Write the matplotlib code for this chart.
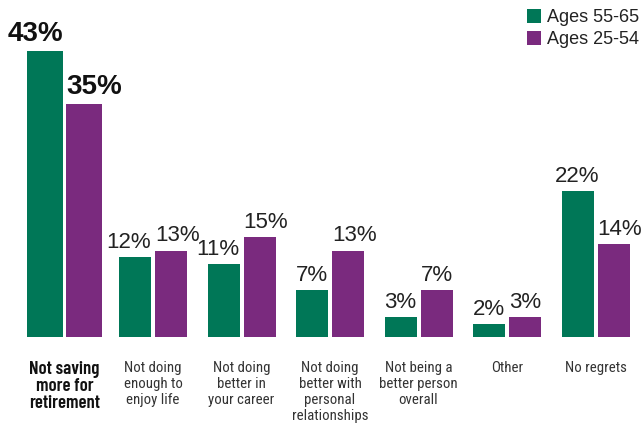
import matplotlib
matplotlib.use("Agg")
import matplotlib.pyplot as plt
from matplotlib.lines import Line2D
import numpy as np

categories = ["Not saving\nmore for\nretirement", "Not doing\nenough to\nenjoy life",
              "Not doing\nbetter in\nyour career", "Not doing\nbetter with\npersonal\nrelationships",
              "Not being a\nbetter person\noverall", "Other", "No regrets"]
ages_55_65 = [43, 12, 11, 7, 3, 2, 22]
ages_25_54 = [35, 13, 15, 13, 7, 3, 14]
series_names = ["Ages 55-65", "Ages 25-54"]

GREEN = "#007757"
PURPLE = "#7a2a7e"
W, H = 643, 426
fig = plt.figure(figsize=(W / 100, H / 100), dpi=100)
base_px = 337
ax = fig.add_axes([0, (H - base_px) / H, 1, base_px / H])
px_per = 6.65
ax.set_ylim(0, base_px / px_per)
step = 88.5
c0 = 64.5
ax.set_xlim(-c0 / step, (W - c0) / step)
for s in ax.spines.values():
    s.set_visible(False)
ax.set_yticks([])

x = np.arange(len(categories))
narrow = ["Roboto Condensed", "Liberation Sans", "DejaVu Sans"]
narrow_bold = ["Barlow Condensed", "Roboto Condensed", "Liberation Sans", "DejaVu Sans"]
sans = ["Liberation Sans", "DejaVu Sans"]
for i in x:
    first = i == 0
    bw = (36 if first else 32) / step
    off = (19.5 if first else 18) / step
    fs = 20 if first else 16
    fw = "bold" if first else "normal"
    tc = "#111111" if first else "#222222"
    g, p = ages_55_65[i], ages_25_54[i]
    ax.bar(i - off, g, width=bw, color=GREEN, linewidth=0)
    ax.bar(i + off, p, width=bw, color=PURPLE, linewidth=0)
    if len(str(g)) >= 2 and len(str(p)) >= 2 and not i == 6:
        gx, gha = i - off + bw / 2, "right"
    else:
        gx, gha = i - off, "center"
    ax.annotate(f"{g}%", (gx, g), xytext=(0, 3), textcoords="offset points",
                ha=gha, va="bottom", fontsize=fs, fontweight=fw, color=tc, family=sans)
    ax.annotate(f"{p}%", (i + off - bw / 2, p), xytext=(0, 3), textcoords="offset points",
                ha="left", va="bottom", fontsize=fs, fontweight=fw, color=tc, family=sans)

ax.set_xticks(x)
ax.set_xticklabels(categories)
ax.tick_params(axis="x", length=0, pad=17)
for i, t in enumerate(ax.get_xticklabels()):
    t.set_multialignment("center")
    if i == 0:
        t.set_family(narrow_bold)
        t.set_fontsize(13.5)
        t.set_fontweight("semibold")
        t.set_color("#111111")
        t.set_linespacing(1.02)
    else:
        t.set_family(narrow)
        t.set_fontsize(10.7)
        t.set_color("#333333")
        t.set_linespacing(1.18)

# legend, drawn at the reference's spot
for j, (name, col) in enumerate(zip(series_names, [GREEN, PURPLE])):
    yc = 15.5 + 22.5 * j
    fig.add_artist(Line2D([534 / W], [1 - yc / H], marker="s", linestyle="", color=col,
                          markersize=9.8, markeredgewidth=0, transform=fig.transFigure))
    fig.text(547 / W, 1 - (yc + 6.5) / H, name, ha="left", va="baseline",
             fontsize=13, family=sans, color="#222222")

fig.savefig("out.png", dpi=100)
